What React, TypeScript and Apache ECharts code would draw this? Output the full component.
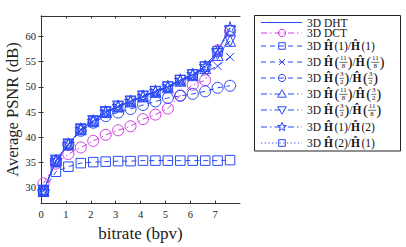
import React, { useEffect, useRef } from 'react';
import * as echarts from 'echarts';

const bitrate = [0.1, 0.6, 1.1, 1.6, 2.1, 2.6, 3.1, 3.6, 4.1, 4.6, 5.1, 5.6, 6.1, 6.6, 7.1, 7.6];

const dht = [29.4, 35.4, 38.6, 41.6, 43.2, 45.0, 46.1, 47.1, 48.1, 49.1, 50.0, 51.3, 52.4, 54.0, 57.1, 61.6];
const dct = [30.9, 34.8, 36.7, 38.0, 39.3, 40.5, 41.4, 42.2, 43.6, 44.5, 45.7, 48.3, 50.4, 51.3, 57.2, 61.0];
const h1h1 = [29.6, 33.2, 34.2, 34.9, 35.1, 35.2, 35.3, 35.3, 35.4, 35.4, 35.4, 35.4, 35.4, 35.4, 35.4, 35.5];
const h118h118 = [29.4, 35.3, 38.5, 41.5, 43.1, 44.9, 46.0, 47.0, 48.0, 48.9, 49.8, 51.0, 52.1, 52.9, 54.1, 55.9];
const h32h32 = [29.4, 35.3, 38.5, 41.3, 42.9, 44.2, 44.9, 45.6, 46.4, 47.1, 47.8, 48.2, 48.6, 49.1, 49.8, 50.2];
const h118h32 = [29.4, 35.4, 38.6, 41.6, 43.2, 45.0, 46.1, 47.1, 48.1, 49.0, 49.9, 51.2, 52.3, 53.7, 56.3, 59.1];
const h32h118 = [29.4, 35.4, 38.6, 41.6, 43.2, 45.0, 46.1, 47.1, 48.1, 49.0, 49.9, 51.2, 52.3, 53.8, 56.5, 59.0];
const h1h2 = [29.4, 35.5, 38.7, 41.7, 43.3, 45.1, 46.2, 47.2, 48.2, 49.2, 50.1, 51.4, 52.5, 54.1, 57.2, 61.7];
const h2h1 = [29.4, 35.4, 38.6, 41.6, 43.2, 45.0, 46.1, 47.1, 48.1, 49.1, 50.0, 51.3, 52.4, 54.0, 57.0, 61.2];

const seriesLabels = [
  '3D DHT',
  '3D DCT',
  '3D Ĥ(1)/Ĥ(1)',
  '3D Ĥ(11/8)/Ĥ(11/8)',
  '3D Ĥ(3/2)/Ĥ(3/2)',
  '3D Ĥ(11/8)/Ĥ(3/2)',
  '3D Ĥ(3/2)/Ĥ(11/8)',
  '3D Ĥ(1)/Ĥ(2)',
  '3D Ĥ(2)/Ĥ(1)',
];
const seriesValues = [dht, dct, h1h1, h118h118, h32h32, h118h32, h32h118, h1h2, h2h1];

const xTicks = [0, 1, 2, 3, 4, 5, 6, 7];
const yTicks = [30, 35, 40, 45, 50, 55, 60];

const BLUE = '#2a4af6';
const MAGENTA = '#d23ee4';
const FONT = 'Liberation Serif';

const DASHED = [5, 4];
const DASHDOT = [6, 3, 1.5, 3];
const DOTTED = [1.2, 2.5];

const seriesStyles: any[] = [
  { color: BLUE, dash: 'solid', marker: 'none' },
  { color: MAGENTA, dash: DASHDOT, marker: 'circle' },
  { color: BLUE, dash: DASHED, marker: 'square' },
  { color: BLUE, dash: DASHED, marker: 'cross' },
  { color: BLUE, dash: DASHED, marker: 'circle' },
  { color: BLUE, dash: DASHDOT, marker: 'triUp' },
  { color: BLUE, dash: DASHDOT, marker: 'triDown' },
  { color: BLUE, dash: DASHDOT, marker: 'star' },
  { color: BLUE, dash: DOTTED, marker: 'square' },
];

const STAR = 'path://M50 0L61.23 34.55L97.55 34.55L68.17 55.9L79.39 90.45L50 69.1L20.61 90.45L31.83 55.9L2.45 34.55L38.77 34.55Z';
const CROSS = 'path://M0 0L10 10M10 0L0 10';

function symbolFor(m: string) {
  switch (m) {
    case 'circle': return { symbol: 'circle', size: 11, rotate: 0 };
    case 'square': return { symbol: 'rect', size: 9.5, rotate: 0 };
    case 'cross': return { symbol: CROSS, size: 8, rotate: 0 };
    case 'triUp': return { symbol: 'triangle', size: 11, rotate: 0 };
    case 'triDown': return { symbol: 'triangle', size: 11, rotate: 180 };
    case 'star': return { symbol: STAR, size: 12, rotate: 0 };
    default: return { symbol: 'none', size: 0, rotate: 0 };
  }
}

let measureCtx: CanvasRenderingContext2D | null = null;
function tw(text: string, font: string) {
  if (!measureCtx) measureCtx = document.createElement('canvas').getContext('2d');
  if (!measureCtx) return text.length * 6;
  measureCtx.font = font;
  return measureCtx.measureText(text).width;
}

const LFS = 11.5;
const fontStr = (size: number, bold = false) => `${bold ? 'bold ' : ''}${size}px "${FONT}"`;

function legendMarker(kind: string, cx: number, cy: number, color: string): any[] {
  const st = { fill: 'none', stroke: color, lineWidth: 1 };
  switch (kind) {
    case 'circle': return [{ type: 'circle', shape: { cx, cy, r: 3.6 }, style: st }];
    case 'square': return [{ type: 'rect', shape: { x: cx - 3.3, y: cy - 3.3, width: 6.6, height: 6.6 }, style: st }];
    case 'cross': return [
      { type: 'line', shape: { x1: cx - 3, y1: cy - 3, x2: cx + 3, y2: cy + 3 }, style: st },
      { type: 'line', shape: { x1: cx + 3, y1: cy - 3, x2: cx - 3, y2: cy + 3 }, style: st },
    ];
    case 'triUp': return [{ type: 'polygon', shape: { points: [[cx, cy - 4.2], [cx + 4.3, cy + 3.2], [cx - 4.3, cy + 3.2]] }, style: st }];
    case 'triDown': return [{ type: 'polygon', shape: { points: [[cx, cy + 4.2], [cx + 4.3, cy - 3.2], [cx - 4.3, cy - 3.2]] }, style: st }];
    case 'star': {
      const pts: number[][] = [];
      for (let i = 0; i < 10; i++) {
        const a = -Math.PI / 2 + (i * Math.PI) / 5;
        const r = i % 2 === 0 ? 4.6 : 1.9;
        pts.push([cx + r * Math.cos(a), cy + r * Math.sin(a)]);
      }
      return [{ type: 'polygon', shape: { points: pts }, style: st }];
    }
    default: return [];
  }
}

function legendText(label: string, x0: number, cy: number): any[] {
  const els: any[] = [];
  let x = x0;
  const addText = (t: string, font: string, size: number, bold = false, lh = 10) => {
    els.push({
      type: 'text', x, y: cy,
      style: { text: t, fontFamily: FONT, fontSize: size, lineHeight: lh, fontWeight: bold ? 'bold' : 'normal', fill: '#111', align: 'left', verticalAlign: 'middle' },
    });
    x += tw(t, font);
  };
  const re = /Ĥ\(([^)]*)\)/g;
  let last = 0;
  let m: RegExpExecArray | null;
  while ((m = re.exec(label))) {
    if (m.index > last) addText(label.slice(last, m.index), fontStr(LFS), LFS);
    addText('Ĥ', fontStr(LFS, true), LFS, true);
    x += 1.5;
    const arg = m[1];
    if (arg.includes('/')) {
      const [n, d] = arg.split('/');
      addText('(', fontStr(15), 15, false, 13);
      const fs = 7;
      const w = Math.max(tw(n, fontStr(fs)), tw(d, fontStr(fs))) + 1.5;
      els.push({ type: 'text', x: x + w / 2, y: cy - 3.6, style: { text: n, fontFamily: FONT, fontSize: fs, lineHeight: 6, fill: '#111', align: 'center', verticalAlign: 'middle' } });
      els.push({ type: 'text', x: x + w / 2, y: cy + 4.0, style: { text: d, fontFamily: FONT, fontSize: fs, lineHeight: 6, fill: '#111', align: 'center', verticalAlign: 'middle' } });
      els.push({ type: 'line', shape: { x1: x, y1: cy + 0.3, x2: x + w, y2: cy + 0.3 }, style: { stroke: '#111', lineWidth: 0.6 } });
      x += w;
      addText(')', fontStr(15), 15, false, 13);
    } else {
      addText('(' + arg + ')', fontStr(LFS), LFS);
    }
    last = re.lastIndex;
  }
  if (last < label.length) addText(label.slice(last), fontStr(LFS), LFS);
  return els;
}

function buildLegend(): any[] {
  const rowY = [22.5, 33, 46, 62, 78, 94, 110, 127, 143];
  const els: any[] = [
    { type: 'rect', shape: { x: 254.5, y: 15.5, width: 146, height: 135.5 }, style: { fill: '#fff', stroke: '#222', lineWidth: 1 } },
  ];
  seriesLabels.forEach((lab, i) => {
    const s = seriesStyles[i];
    const cy = rowY[i];
    els.push({
      type: 'line', shape: { x1: 261, y1: cy, x2: 302, y2: cy },
      style: { stroke: s.color, lineWidth: 1, lineDash: s.dash === 'solid' ? null : s.dash },
    });
    els.push(...legendMarker(s.marker, 282, cy, s.color));
    els.push(...legendText(lab, 307, cy));
  });
  return els;
}

export default function App() {
  const ref = useRef<HTMLDivElement>(null);
  useEffect(() => {
    if (!ref.current) return;
    const chart = echarts.init(ref.current, null, { renderer: 'svg' });
    const axisLine = { show: true, lineStyle: { color: '#333', width: 1 } };
    const series = seriesValues.map((vals, i) => {
      const s = seriesStyles[i];
      const sym = symbolFor(s.marker);
      return {
        name: seriesLabels[i],
        type: 'line',
        xAxisIndex: 0,
        yAxisIndex: 0,
        data: vals.map((v, k) => [bitrate[k], v]),
        symbol: sym.symbol,
        symbolSize: sym.size,
        symbolRotate: sym.rotate,
        showSymbol: s.marker !== 'none',
        lineStyle: { color: s.color, width: 1, type: s.dash },
        itemStyle: { color: 'rgba(0,0,0,0)', borderColor: s.color, borderWidth: 1 },
        emphasis: { disabled: true },
        silent: true,
      };
    });
    chart.setOption({
      animation: false,
      backgroundColor: '#fff',
      textStyle: { fontFamily: FONT },
      grid: { left: 41, top: 16, width: 199, height: 194, containLabel: false },
      xAxis: [
        {
          type: 'value', min: 0, max: 8, position: 'bottom',
          axisLine,
          axisTick: { show: true, inside: true, length: 2.5, customValues: xTicks, lineStyle: { color: '#333' } },
          axisLabel: { customValues: xTicks, fontFamily: FONT, fontSize: 10.5, color: '#222', margin: 6 },
          splitLine: { show: false },
          name: 'bitrate (bpv)', nameLocation: 'middle', nameGap: 19,
          nameTextStyle: { fontFamily: FONT, fontSize: 17, color: '#222' },
        },
        {
          type: 'value', min: 0, max: 8, position: 'top',
          axisLine,
          axisTick: { show: true, inside: true, length: 2.5, customValues: xTicks, lineStyle: { color: '#333' } },
          axisLabel: { show: false },
          splitLine: { show: false },
        },
      ],
      yAxis: [
        {
          type: 'value', min: 27, max: 64, position: 'left',
          axisLine,
          axisTick: { show: true, inside: true, length: 2.5, customValues: yTicks, lineStyle: { color: '#333' } },
          axisLabel: { customValues: yTicks, fontFamily: FONT, fontSize: 10.5, color: '#222', margin: 5 },
          splitLine: { show: false },
          name: 'Average PSNR (dB)', nameLocation: 'middle', nameGap: 20,
          nameTextStyle: { fontFamily: FONT, fontSize: 16.5, color: '#222' },
        },
        {
          type: 'value', min: 27, max: 64, position: 'right',
          axisLine,
          axisTick: { show: true, inside: true, length: 2.5, customValues: yTicks, lineStyle: { color: '#333' } },
          axisLabel: { show: false },
          splitLine: { show: false },
        },
      ],
      legend: { show: false },
      tooltip: { show: false },
      series,
      graphic: buildLegend(),
    });
    return () => chart.dispose();
  }, []);
  return <div ref={ref} style={{ width: 406, height: 247, position: 'absolute', left: 0, top: 0 }} />;
}
